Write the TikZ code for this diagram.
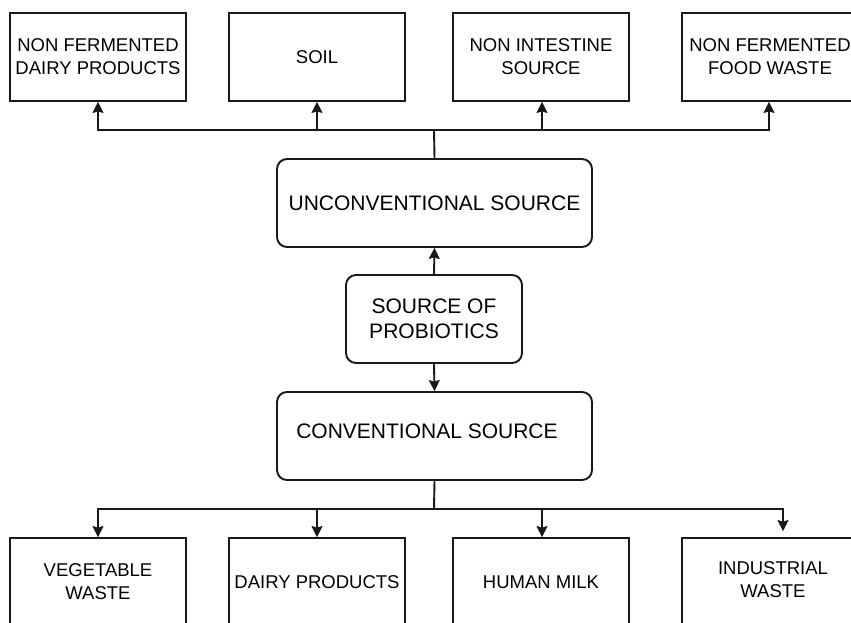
\documentclass[tikz,border=0pt]{standalone}
\usepackage{fontspec}
\setmainfont{Liberation Sans}
\usetikzlibrary{arrows.meta}
\tikzset{
  leaf/.style={draw=black!90, line width=1.9pt, minimum width=176pt, minimum height=88pt,
    inner sep=0pt, align=center, font=\fontsize{18.5}{23}\selectfont},
  mid/.style={draw=black!90, line width=1.9pt, rounded corners=10pt, inner sep=0pt,
    align=center, font=\fontsize{21}{25}\selectfont},
  conn/.style={draw=black!90, line width=1.9pt},
  arr/.style={conn, -{Stealth[length=11pt,width=11pt,inset=1.5pt,line width=0.5pt]}}
}
\begin{document}
\begin{tikzpicture}[x=1pt,y=-1pt]
\useasboundingbox (0,0) rectangle (851,622);
% top leaves
\node[leaf] (t1) at (98,57) {NON FERMENTED\\DAIRY PRODUCTS};
\node[leaf] (t2) at (317,57) {SOIL};
\node[leaf] (t3) at (541,57) {NON INTESTINE\\SOURCE};
\node[leaf] (t4) at (770,57) {NON FERMENTED\\FOOD WASTE};
% middle
\node[mid, minimum width=315pt, minimum height=88pt] (unc) at (434.5,203) {UNCONVENTIONAL SOURCE};
\node[mid, minimum width=176pt, minimum height=88pt] (src) at (434,319) {SOURCE OF\\PROBIOTICS};
\node[mid, minimum width=315pt, minimum height=88pt] (con) at (434.5,436) {};
\node (contxt) at (427,431) {\fontsize{21}{25}\selectfont CONVENTIONAL SOURCE};
% bottom leaves
\node[leaf] (b1) at (98,582) {VEGETABLE\\WASTE};
\node[leaf] (b2) at (317,582) {DAIRY PRODUCTS};
\node[leaf] (b3) at (541,582) {HUMAN MILK};
\node[leaf] (b4) at (770,582) {};
\node[font=\fontsize{18.5}{23}\selectfont, align=center] (b4txt) at (773,580) {INDUSTRIAL\\WASTE};
% buses
\coordinate (tb) at (434,130);
\coordinate (bb) at (434,509);
\draw[conn] (unc.north) -- (tb);
\draw[arr] (tb) -| (t1.south);
\draw[arr] (tb) -| (t2.south);
\draw[arr] (tb) -| ([xshift=1pt]t3.south);
\draw[arr] (tb) -| ([xshift=-1pt]t4.south);
\draw[arr] (src.north) -- (unc.south);
\draw[arr] (src.south) -- (con.north);
\draw[conn] (con.south) -- (bb);
\draw[arr] (bb) -| (b1.north);
\draw[arr] (bb) -| (b2.north);
\draw[arr] (bb) -| ([xshift=1pt]b3.north);
\draw[arr] (bb) -| ([xshift=13pt,yshift=6pt]b4.north);
\end{tikzpicture}
\end{document}
